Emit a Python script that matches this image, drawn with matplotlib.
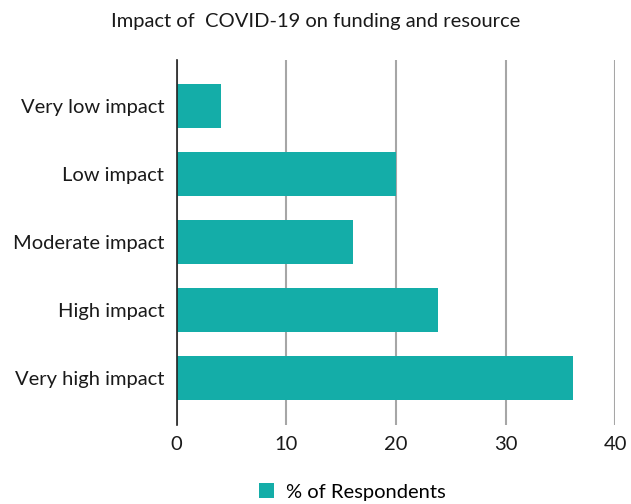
import matplotlib
matplotlib.use("Agg")
import matplotlib.pyplot as plt
from matplotlib.patches import Patch

categories = ["Very low impact", "Low impact", "Moderate impact", "High impact", "Very high impact"]
values = [4.0, 20.0, 16.1, 23.8, 36.1]
xticks = [0, 10, 20, 30, 40]
title = "Impact of  COVID-19 on funding and resource"
legend_label = "% of Respondents"
color = "#14ADA8"

plt.rcParams['font.family'] = ['Lato', 'DejaVu Sans']
FS = 14.5

fig = plt.figure(figsize=(6.31, 5.04), dpi=100)
ax = fig.add_axes([176.7/631, 1-425/504, (615.3-176.7)/631, (425-60)/504])

ypos = list(range(len(categories)))
ax.barh(ypos, values, height=0.65, color=color, zorder=3)
ax.set_ylim(4.69, -0.68)
ax.set_xlim(0, 40)
ax.set_xticks(xticks)
ax.set_xticklabels([str(t) for t in xticks], fontsize=FS, color="#1a1a1a")
ax.set_yticks(ypos)
ax.set_yticklabels(categories, fontsize=FS, color="#1a1a1a")
ax.tick_params(axis='both', length=0)
ax.tick_params(axis='y', pad=9)
ax.tick_params(axis='x', pad=8)
ax.xaxis.grid(True, color="#a6a6a6", linewidth=1.5, zorder=0)
for s in ["top", "right", "bottom"]:
    ax.spines[s].set_visible(False)
ax.spines["left"].set_color("#222222")
ax.spines["left"].set_linewidth(1.2)
ax.spines["left"].set_zorder(4)

fig.text(0.5, 1-21/504, title, ha="center", va="center", fontsize=FS, color="#1a1a1a")

handles = [Patch(facecolor=color, label=legend_label)]
fig.legend(handles=handles, loc="center", bbox_to_anchor=(352/631, 1-492/504), frameon=False,
           fontsize=FS, handlelength=0.75, handleheight=0.75, handletextpad=0.6)

fig.savefig("out.png", dpi=100, facecolor="white")
